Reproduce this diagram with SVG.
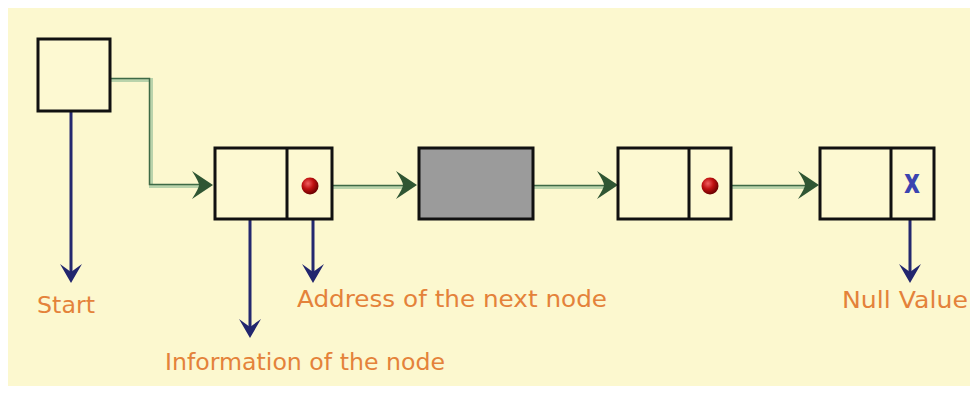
<svg xmlns="http://www.w3.org/2000/svg" width="970" height="393" viewBox="0 0 970 393">
<style>
.box{fill:#fdf9d2;stroke:#111;stroke-width:3}
.gray{fill:#9b9b9b;stroke:#111;stroke-width:3}
.gl{fill:none;stroke:#b9d3ab;stroke-width:4}
.gd{fill:none;stroke:#3e6a46;stroke-width:1.5}
.bl{fill:none;stroke:#24286f;stroke-width:3}
.lbl{font-family:"DejaVu Sans",Verdana,sans-serif;font-size:23px;fill:#e4823a}
</style>
<defs>
<path id="gh" d="M0,0 L-21,-14 Q-14,-3 -14,0 Q-14,3 -21,14 Z" fill="#2f5633"/>
<path id="bh" d="M0,0 L-11,-19 L0,-11 L11,-19 Z" fill="#22266e"/>
<radialGradient id="dot" cx="0.38" cy="0.35" r="0.65">
<stop offset="0" stop-color="#f06060"/>
<stop offset="0.5" stop-color="#c01010"/>
<stop offset="1" stop-color="#6a0000"/>
</radialGradient>
</defs>
<rect x="0" y="0" width="970" height="393" fill="#ffffff"/>
<rect x="8" y="8" width="962" height="378" fill="#fcf8cf"/>
<g id="connectors">
<path class="gl" d="M111,80 H151 V186 H206"/>
<path class="gd" d="M111,78.5 H149.5 V184.5 H206"/>
<use href="#gh" x="213" y="185"/>
<path class="gl" d="M333,187 H410"/>
<path class="gd" d="M333,185.5 H410"/>
<use href="#gh" x="417" y="185"/>
<path class="gl" d="M534,187 H611"/>
<path class="gd" d="M534,185.5 H611"/>
<use href="#gh" x="618" y="185"/>
<path class="gl" d="M732,187 H812"/>
<path class="gd" d="M732,185.5 H812"/>
<use href="#gh" x="819" y="185"/>
<path class="bl" d="M71,112 V275"/>
<use href="#bh" x="71" y="283"/>
<path class="bl" d="M250,220 V330"/>
<use href="#bh" x="250" y="338"/>
<path class="bl" d="M313,220 V275"/>
<use href="#bh" x="313" y="283"/>
<path class="bl" d="M910,220 V275"/>
<use href="#bh" x="910" y="283"/>
</g>
<g id="start"><rect class="box" x="38" y="39" width="72" height="72"/></g>
<g id="node1"><rect class="box" x="215" y="148" width="117" height="71"/><line x1="287" y1="148" x2="287" y2="219" stroke="#111" stroke-width="3"/><circle cx="310" cy="186" r="8.5" fill="url(#dot)"/></g>
<g id="node2"><rect class="gray" x="419" y="148" width="114" height="71"/></g>
<g id="node3"><rect class="box" x="618" y="148" width="113" height="71"/><line x1="689" y1="148" x2="689" y2="219" stroke="#111" stroke-width="3"/><circle cx="710" cy="186" r="8.5" fill="url(#dot)"/></g>
<g id="node4"><rect class="box" x="820" y="148" width="114" height="71"/><line x1="891" y1="148" x2="891" y2="219" stroke="#111" stroke-width="3"/><text x="904" y="193" textLength="16" lengthAdjust="spacingAndGlyphs" style="font-family:'DejaVu Sans',sans-serif;font-size:34px;font-weight:bold;fill:#3b44b0">x</text></g>
<g id="labels">
<text class="lbl" x="37" y="313" textLength="58" lengthAdjust="spacingAndGlyphs">Start</text>
<text class="lbl" x="297" y="307" textLength="310" lengthAdjust="spacingAndGlyphs">Address of the next node</text>
<text class="lbl" x="165" y="370" textLength="280" lengthAdjust="spacingAndGlyphs">Information of the node</text>
<text class="lbl" x="842" y="308" textLength="126" lengthAdjust="spacingAndGlyphs">Null Value</text>
</g>
</svg>
